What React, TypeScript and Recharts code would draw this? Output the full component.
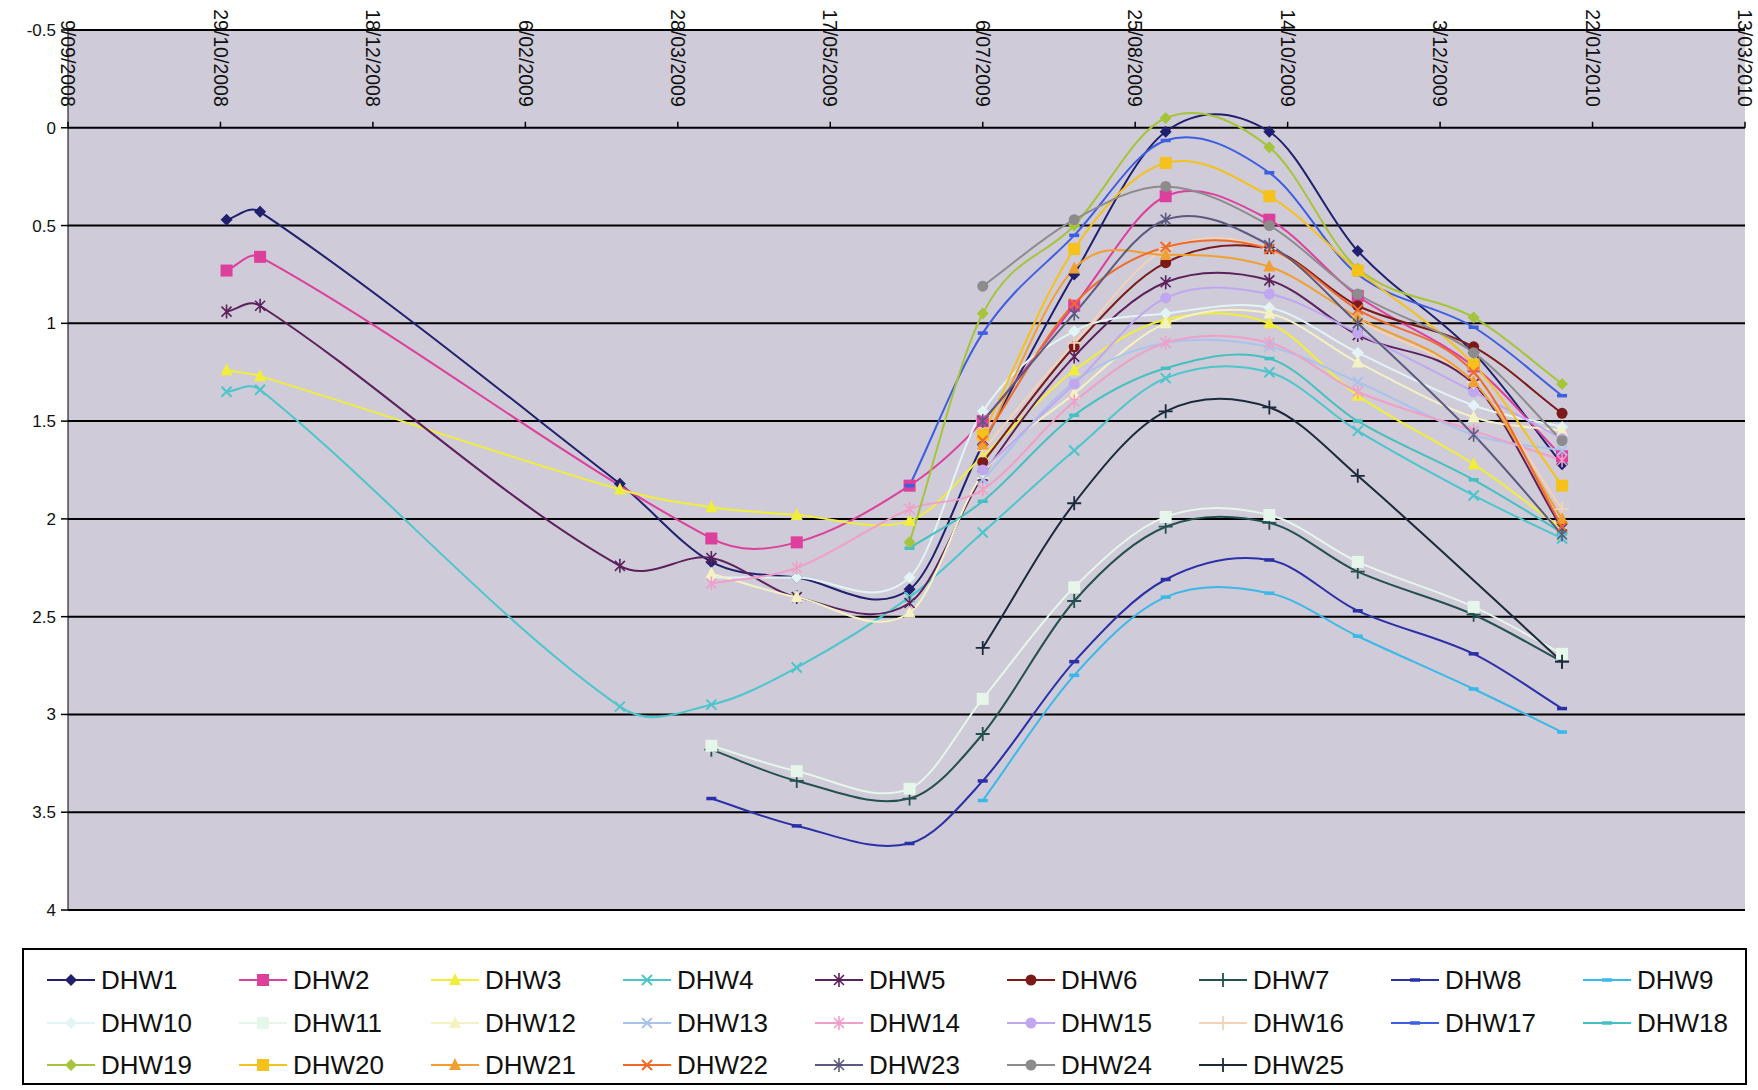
import React from "react";
import { LineChart, Line, XAxis, YAxis, CartesianGrid } from "recharts";

// sampling dates (d/mm/yyyy)
const DATES = [
  "31/10/2008", "11/11/2008", "9/03/2009", "8/04/2009", "6/05/2009", "12/06/2009",
  "6/07/2009", "5/08/2009", "4/09/2009", "8/10/2009", "6/11/2009", "14/12/2009", "12/01/2010",
];

const X_TICKS = [
  "9/09/2008", "29/10/2008", "18/12/2008", "6/02/2009", "28/03/2009", "17/05/2009",
  "6/07/2009", "25/08/2009", "14/10/2009", "3/12/2009", "22/01/2010", "13/03/2010",
];

const Y_TICKS = [-0.5, 0, 0.5, 1, 1.5, 2, 2.5, 3, 3.5, 4];

const _ = null;
const DHW1 = [0.47, 0.43, 1.82, 2.22, 2.3, 2.36, 1.62, 0.75, 0.02, 0.02, 0.63, 1.15, 1.72];
const DHW2 = [0.73, 0.66, _, 2.1, 2.12, 1.83, 1.5, 0.91, 0.35, 0.47, 0.86, 1.22, 1.68];
const DHW3 = [1.24, 1.27, 1.85, 1.94, 1.98, 2.01, 1.68, 1.24, 0.98, 1.0, 1.37, 1.72, 2.05];
const DHW4 = [1.35, 1.34, 2.96, 2.95, 2.76, 2.4, 2.07, 1.65, 1.28, 1.25, 1.55, 1.88, 2.1];
const DHW5 = [0.94, 0.91, 2.24, 2.2, 2.4, 2.43, 1.78, 1.17, 0.79, 0.78, 1.06, 1.31, 2.05];
const DHW6 = [_, _, _, _, _, _, 1.71, 1.12, 0.69, 0.62, 0.91, 1.12, 1.46];
const DHW7 = [_, _, _, 3.18, 3.34, 3.43, 3.1, 2.42, 2.04, 2.02, 2.27, 2.49, 2.73];
const DHW8 = [_, _, _, 3.43, 3.57, 3.66, 3.34, 2.73, 2.31, 2.21, 2.47, 2.69, 2.97];
const DHW9 = [_, _, _, _, _, _, 3.44, 2.8, 2.4, 2.38, 2.6, 2.87, 3.09];
const DHW10 = [_, _, _, 2.3, 2.3, 2.3, 1.45, 1.04, 0.95, 0.92, 1.15, 1.42, 1.53];
const DHW11 = [_, _, _, 3.16, 3.29, 3.38, 2.92, 2.35, 1.99, 1.98, 2.22, 2.45, 2.69];
const DHW12 = [_, _, _, 2.28, 2.4, 2.48, 1.77, 1.36, 1.0, 0.95, 1.2, 1.48, 1.55];
const DHW13 = [_, _, _, _, _, _, 1.8, 1.3, 1.1, 1.12, 1.3, 1.57, 1.65];
const DHW14 = [_, _, _, 2.33, 2.25, 1.95, 1.85, 1.4, 1.1, 1.1, 1.35, 1.55, 1.7];
const DHW15 = [_, _, _, _, _, _, 1.75, 1.31, 0.87, 0.85, 1.05, 1.35, 1.59];
const DHW16 = [_, _, _, _, _, _, 1.65, 1.1, 0.62, 0.62, 0.98, 1.3, 1.95];
const DHW17 = [_, _, _, _, _, 1.83, 1.05, 0.55, 0.065, 0.23, 0.75, 1.02, 1.37];
const DHW18 = [_, _, _, _, _, 2.15, 1.91, 1.47, 1.23, 1.18, 1.5, 1.8, 2.07];
const DHW19 = [_, _, _, _, _, 2.12, 0.95, 0.5, -0.05, 0.1, 0.72, 0.97, 1.31];
const DHW20 = [_, _, _, _, _, _, 1.57, 0.62, 0.18, 0.35, 0.73, 1.21, 1.83];
const DHW21 = [_, _, _, _, _, _, 1.62, 0.72, 0.65, 0.71, 0.97, 1.3, 2.0];
const DHW22 = [_, _, _, _, _, _, 1.6, 0.9, 0.61, 0.62, 0.93, 1.25, 2.04];
const DHW23 = [_, _, _, _, _, _, 1.5, 0.95, 0.47, 0.6, 1.0, 1.57, 2.08];
const DHW24 = [_, _, _, _, _, _, 0.81, 0.47, 0.3, 0.5, 0.85, 1.15, 1.6];
const DHW25 = [_, _, _, _, _, _, 2.66, 1.92, 1.45, 1.43, 1.78, _, 2.73];

const SERIES: [string, (number | null)[]][] = [
  ["DHW1", DHW1], ["DHW2", DHW2], ["DHW3", DHW3], ["DHW4", DHW4], ["DHW5", DHW5],
  ["DHW6", DHW6], ["DHW7", DHW7], ["DHW8", DHW8], ["DHW9", DHW9], ["DHW10", DHW10],
  ["DHW11", DHW11], ["DHW12", DHW12], ["DHW13", DHW13], ["DHW14", DHW14], ["DHW15", DHW15],
  ["DHW16", DHW16], ["DHW17", DHW17], ["DHW18", DHW18], ["DHW19", DHW19], ["DHW20", DHW20],
  ["DHW21", DHW21], ["DHW22", DHW22], ["DHW23", DHW23], ["DHW24", DHW24], ["DHW25", DHW25],
];

// excel-ish default palette as it looks after scanning
const COLORS = [
  "#20206e", "#dc3f9c", "#f0ee3a", "#4cc6cc", "#5c205c", "#7a1a1a", "#24504e", "#2b30a8",
  "#3ab8e8", "#e2f4f4", "#e6f6ea", "#f4f2c2", "#a9c4ec", "#f0a0c8", "#c0a8f0", "#f3d2b6",
  "#3c5ee0", "#45c0c0", "#a6c43a", "#f5c21c", "#f0a030", "#f06a2a", "#5a5a80", "#8c8c8c",
  "#1a2a3a",
];

const SHAPES = [
  "diamond", "square", "triangle", "x", "star", "circle", "plus", "dash", "dash",
  "diamond", "square", "triangle", "x", "star", "circle", "plus", "dash", "dash",
  "diamond", "square", "triangle", "x", "star", "circle", "plus",
];

const parseDate = (s: string) => {
  const [d, m, y] = s.split("/").map(Number);
  return Date.UTC(y, m - 1, d);
};

const fmtDate = (t: number) => {
  const d = new Date(t);
  return `${d.getUTCDate()}/${String(d.getUTCMonth() + 1).padStart(2, "0")}/${d.getUTCFullYear()}`;
};

const data = DATES.map((d, i) => {
  const row: any = { t: parseDate(d) };
  SERIES.forEach(([name, vals]) => (row[name] = vals[i]));
  return row;
});

const W = 1758;
const H = 1090;
const TOP = 30;
const PLOT_H = 880;
const ZERO_Y = TOP + (PLOT_H * 0.5) / 4.5;
const FONT = "'Liberation Sans', Arial, sans-serif";

// smoothed line like Excel's: cubic hermite with finite-difference slopes
const smoothCurve = (context: any) => {
  let pts: number[][] = [];
  return {
    areaStart() {},
    areaEnd() {},
    lineStart() {
      pts = [];
    },
    point(x: number, y: number) {
      pts.push([+x, +y]);
    },
    lineEnd() {
      const n = pts.length;
      if (!n) return;
      context.moveTo(pts[0][0], pts[0][1]);
      if (n === 1) return;
      const m = pts.map((p, i) => {
        const a = pts[Math.max(i - 1, 0)];
        const b = pts[Math.min(i + 1, n - 1)];
        return (b[1] - a[1]) / (b[0] - a[0] || 1);
      });
      for (let i = 0; i < n - 1; i++) {
        const [x0, y0] = pts[i];
        const [x1, y1] = pts[i + 1];
        const h = (x1 - x0) / 3;
        context.bezierCurveTo(x0 + h, y0 + m[i] * h, x1 - h, y1 - m[i + 1] * h, x1, y1);
      }
    },
  };
};

const Marker = ({ shape, cx, cy, color }: { shape: string; cx: number; cy: number; color: string }) => {
  switch (shape) {
    case "diamond":
      return <path d={`M${cx},${cy - 6}L${cx + 6},${cy}L${cx},${cy + 6}L${cx - 6},${cy}Z`} fill={color} />;
    case "square":
      return <rect x={cx - 6} y={cy - 6} width={12} height={12} fill={color} />;
    case "triangle":
      return <path d={`M${cx},${cy - 7}L${cx + 6},${cy + 5}L${cx - 6},${cy + 5}Z`} fill={color} />;
    case "x":
      return (
        <path d={`M${cx - 5},${cy - 5}L${cx + 5},${cy + 5}M${cx + 5},${cy - 5}L${cx - 5},${cy + 5}`} stroke={color} strokeWidth={2} />
      );
    case "star":
      return (
        <path
          d={`M${cx - 5},${cy - 5}L${cx + 5},${cy + 5}M${cx + 5},${cy - 5}L${cx - 5},${cy + 5}M${cx},${cy - 7}L${cx},${cy + 7}`}
          stroke={color}
          strokeWidth={1.6}
        />
      );
    case "circle":
      return <circle cx={cx} cy={cy} r={5.5} fill={color} />;
    case "plus":
      return <path d={`M${cx - 7},${cy}L${cx + 7},${cy}M${cx},${cy - 7}L${cx},${cy + 7}`} stroke={color} strokeWidth={1.8} />;
    default:
      return <path d={`M${cx - 5},${cy}L${cx + 5},${cy}`} stroke={color} strokeWidth={3.5} />;
  }
};

const XTick = ({ x, payload }: any) => (
  <g>
    <line x1={x} x2={x} y1={ZERO_Y - 6} y2={ZERO_Y} stroke="#000" strokeWidth={1.5} />
    <text
      transform={`translate(${x},${ZERO_Y - 21}) rotate(90)`}
      textAnchor="end"
      dy="0.35em"
      fontSize={19.5}
      fontFamily={FONT}
      fill="#111"
    >
      {fmtDate(payload.value)}
    </text>
  </g>
);

const LegendBox = () => (
  <div
    style={{
      position: "absolute",
      left: 22,
      top: 948,
      width: 1721,
      height: 133,
      border: "2px solid #000",
      background: "#fff",
    }}
  >
    {SERIES.map(([name], i) => {
      const row = Math.floor(i / 9);
      const col = i % 9;
      const cy = 30 + row * 42.5;
      return (
        <div key={name} style={{ position: "absolute", left: 23 + col * 192, top: cy - 16, height: 32 }}>
          <svg width={52} height={32} style={{ position: "absolute", left: 0, top: 0 }}>
            <line x1={0} x2={48} y1={16} y2={16} stroke={COLORS[i]} strokeWidth={2} />
            <Marker shape={SHAPES[i]} cx={24} cy={16} color={COLORS[i]} />
          </svg>
          <span
            style={{
              position: "absolute",
              left: 54,
              top: 0,
              lineHeight: "32px",
              fontSize: 26,
              fontFamily: FONT,
              color: "#111",
              whiteSpace: "nowrap",
            }}
          >
            {name}
          </span>
        </div>
      );
    })}
  </div>
);

export default function App() {
  return (
    <div style={{ position: "absolute", left: 0, top: 0, width: W, height: H, background: "#fff" }}>
      <LineChart width={W} height={H} data={data} margin={{ top: 0, right: 13, bottom: 180, left: 0 }}>
        <CartesianGrid vertical={false} stroke="#000" strokeWidth={2} fill="#cfcbd8" fillOpacity={1} />
        <XAxis
          dataKey="t"
          type="number"
          orientation="top"
          height={30}
          domain={[parseDate(X_TICKS[0]), parseDate(X_TICKS[X_TICKS.length - 1])]}
          ticks={X_TICKS.map(parseDate)}
          interval={0}
          axisLine={false}
          tickLine={false}
          tick={<XTick />}
          allowDataOverflow
        />
        <YAxis
          type="number"
          reversed
          domain={[-0.5, 4]}
          ticks={Y_TICKS}
          interval={0}
          width={68}
          tickSize={7}
          tickMargin={5}
          axisLine={{ stroke: "#000", strokeWidth: 1 }}
          tickLine={{ stroke: "#000", strokeWidth: 1.5 }}
          tick={{ fontSize: 17, fontFamily: FONT, fill: "#111" }}
          allowDataOverflow
        />
        {SERIES.map(([name], i) => (
          <Line
            key={name}
            dataKey={name}
            type={smoothCurve as any}
            stroke={COLORS[i]}
            strokeWidth={2}
            connectNulls
            isAnimationActive={false}
            activeDot={false}
            dot={(p: any) =>
              p.cy == null || p.value == null ? (
                <g key={`${name}-${p.index}`} />
              ) : (
                <Marker key={`${name}-${p.index}`} shape={SHAPES[i]} cx={p.cx} cy={p.cy} color={COLORS[i]} />
              )
            }
          />
        ))}
      </LineChart>
      <LegendBox />
    </div>
  );
}
